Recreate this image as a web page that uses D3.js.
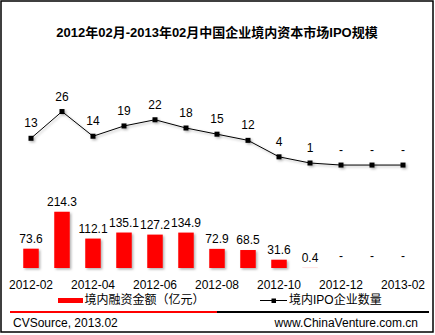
<!DOCTYPE html>
<html><head><meta charset="utf-8">
<script src="https://cdn.jsdelivr.net/npm/d3@7/dist/d3.min.js"></script>
<style>
html,body{margin:0;padding:0;background:#fff;}
svg{display:block;font-family:"Liberation Sans","Noto Sans CJK SC",sans-serif;}
</style></head>
<body>
<svg id="c" width="435" height="335"></svg>
<script>
const months = ["2012-02","2012-03","2012-04","2012-05","2012-06","2012-07","2012-08","2012-09","2012-10","2012-11","2012-12","2013-01","2013-02"];
const tickLabels = ["2012-02","2012-04","2012-06","2012-08","2012-10","2012-12","2013-02"];
const financing = [73.6, 214.3, 112.1, 135.1, 127.2, 134.9, 72.9, 68.5, 31.6, 0.4, null, null, null];
const ipoCount = [13, 26, 14, 19, 22, 18, 15, 12, 4, 1, null, null, null];
const title = "2012年02月-2013年02月中国企业境内资本市场IPO规模";
const legendBar = "境内融资金额（亿元）";
const legendLine = "境内IPO企业数量";
const sourceText = "CVSource, 2013.02";
const siteText = "www.ChinaVenture.com.cn";

const svg = d3.select("#c");
const defs = svg.append("defs");
const f = defs.append("filter").attr("id","sh").attr("x","-20%").attr("y","-20%").attr("width","160%").attr("height","160%");
f.append("feDropShadow").attr("dx",1.5).attr("dy",1.5).attr("stdDeviation",0.8).attr("flood-color","#000").attr("flood-opacity",0.3);

// border
svg.append("rect").attr("x",1).attr("y",1).attr("width",432).attr("height",331)
  .attr("fill","none").attr("stroke","#000").attr("stroke-width",1.5);

svg.append("text").attr("x",217).attr("y",36.5).attr("text-anchor","middle")
  .attr("font-size",13).attr("font-weight","bold").text(title);

const x = d3.scaleBand().domain(months).range([15.5, 418.5]).paddingInner(0.5).paddingOuter(0.25);
const yBar = d3.scaleLinear().domain([0, 800]).range([268, 58]);
const yLine = d3.scaleLinear().domain([-50, 52]).range([268, 58]);
const cx = m => x(m) + x.bandwidth()/2;

// bars
const g = svg.append("g");
g.selectAll("rect.bar").data(months.map((m,i)=>({m, v:financing[i]})).filter(d=>d.v!=null))
  .join("rect").attr("class","bar")
  .attr("x", d=>x(d.m)).attr("width", x.bandwidth())
  .attr("y", d=>yBar(d.v)).attr("height", d=>yBar(0)-yBar(d.v))
  .attr("fill","#ff0000").attr("filter","url(#sh)");

g.selectAll("text.bl").data(months.map((m,i)=>({m, v:financing[i]})))
  .join("text").attr("class","bl")
  .attr("x", d=>cx(d.m)).attr("y", d=> d.v==null ? yBar(0)-8 : yBar(d.v)-6)
  .attr("text-anchor","middle").attr("font-size",12).attr("fill","#000")
  .text(d=> d.v==null ? "-" : d3.format(".1f")(d.v));

// line
const lineData = months.map((m,i)=>({m, v:ipoCount[i]==null?0:ipoCount[i], raw:ipoCount[i]}));
const line = d3.line().x(d=>cx(d.m)).y(d=>yLine(d.v));
const lg = svg.append("g").attr("filter","url(#sh)");
lg.append("path").datum(lineData).attr("d", line).attr("fill","none").attr("stroke","#000").attr("stroke-width",1);
lg.selectAll("rect").data(lineData).join("rect")
  .attr("x", d=>cx(d.m)-2.5).attr("y", d=>yLine(d.v)-2.5).attr("width",5).attr("height",5).attr("fill","#000");
svg.selectAll("text.ll").data(lineData).join("text").attr("class","ll")
  .attr("x", d=>cx(d.m)).attr("y", d=>yLine(d.v)-11)
  .attr("text-anchor","middle").attr("font-size",12)
  .text(d=> d.raw==null ? "-" : d.raw);

// x axis
const ax = d3.axisBottom(x).tickSize(0).tickPadding(12)
  .tickFormat(m => tickLabels.includes(m) ? m : "");
const axg = svg.append("g").attr("transform","translate(0,268)").call(ax);
axg.select(".domain").remove();
axg.selectAll("text").attr("font-size",12).attr("font-family",null).attr("fill","#000");

// legend
svg.append("rect").attr("x",58).attr("y",298).attr("width",25).attr("height",5).attr("fill","#ff0000");
svg.append("text").attr("x",84.5).attr("y",304).attr("font-size",12).text(legendBar);
svg.append("line").attr("x1",260).attr("x2",287).attr("y1",300.5).attr("y2",300.5).attr("stroke","#000").attr("stroke-width",1);
svg.append("rect").attr("x",271.5).attr("y",298.5).attr("width",4.5).attr("height",4.5).attr("fill","#000");
svg.append("text").attr("x",289).attr("y",304).attr("font-size",12).text(legendLine);

// separator
svg.append("line").attr("x1",10).attr("x2",217).attr("y1",312).attr("y2",312).attr("stroke","#ff0000").attr("stroke-width",2);
svg.append("line").attr("x1",217).attr("x2",429).attr("y1",312).attr("y2",312).attr("stroke","#000").attr("stroke-width",2);

svg.append("text").attr("x",13).attr("y",327).attr("font-size",12).text(sourceText);
svg.append("text").attr("x",418).attr("y",327).attr("text-anchor","end").attr("font-size",12).text(siteText);
</script>
</body></html>
